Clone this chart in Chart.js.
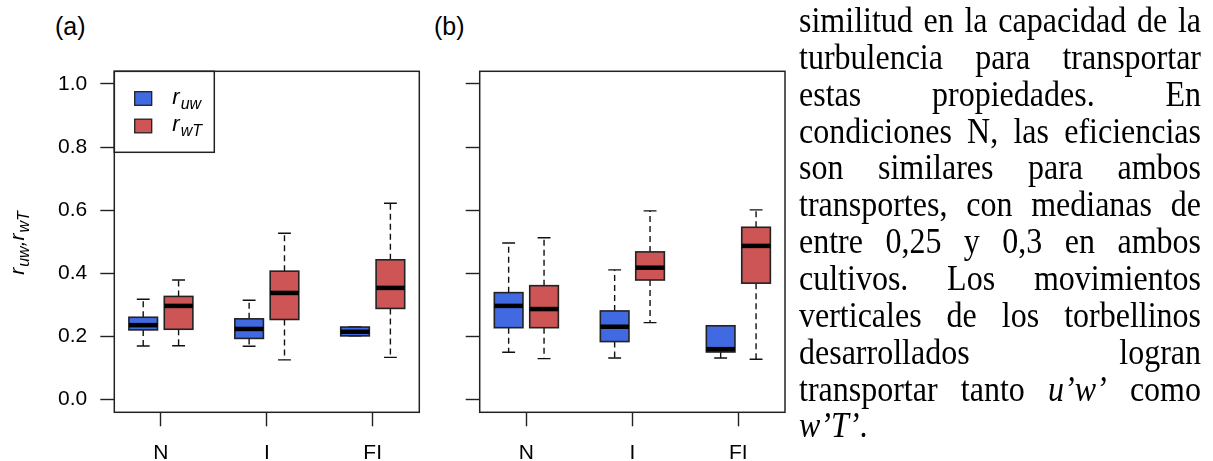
<!DOCTYPE html>
<html>
<head>
<meta charset="utf-8">
<script src="https://cdn.jsdelivr.net/npm/chart.js@4/dist/chart.umd.min.js"></script>
<style>
body { margin: 0; background: #fff; width: 1213px; height: 461px; overflow: hidden; position: relative; }
canvas { position: absolute; top: 0; }
#ca { left: 0; }
#cb { left: 420px; }
.panel { position: absolute; top: 12px; font: 25px "Liberation Sans", Arial, sans-serif; color: #000; }
#texto { position: absolute; left: 799px; top: 1.5px; width: 402px; font-family: "Liberation Serif", "Times New Roman", serif; font-size: 32px; line-height: 32.86px; color: #000; transform: scaleY(1.12); transform-origin: 0 0; }
#texto div { text-align: justify; text-align-last: justify; }
#texto div.ultima { text-align-last: left; }
</style>
</head>
<body>
<div class="panel" style="left:55px">(a)</div>
<div class="panel" style="left:434px">(b)</div>
<canvas id="ca" width="430" height="461"></canvas>
<canvas id="cb" width="375" height="461"></canvas>
<div id="texto">
  <div>similitud en la capacidad de la</div>
  <div>turbulencia para transportar</div>
  <div>estas propiedades. En</div>
  <div>condiciones N, las eficiencias</div>
  <div>son similares para ambos</div>
  <div>transportes, con medianas de</div>
  <div>entre 0,25 y 0,3 en ambos</div>
  <div>cultivos. Los movimientos</div>
  <div>verticales de los torbellinos</div>
  <div>desarrollados logran</div>
  <div>transportar tanto <i>u’w’</i> como</div>
  <div class="ultima"><i>w’T’</i>.</div>
</div>
<script>
// categorias y posiciones
const grupos = ['N', 'I', 'FI'];
const posGrupo = [1, 2, 3];
const yTicks = [0, 0.2, 0.4, 0.6, 0.8, 1.0];

// resumen de cada caja: [bigote inf, Q1, mediana, Q3, bigote sup]
const aUw = [[0.170, 0.221, 0.236, 0.261, 0.318], [0.169, 0.194, 0.224, 0.256, 0.315], [0.202, 0.202, 0.215, 0.230, 0.230]];
const aWT = [[0.171, 0.223, 0.297, 0.327, 0.379], [0.126, 0.254, 0.338, 0.407, 0.527], [0.134, 0.289, 0.354, 0.443, 0.622]];
const bUw = [[0.150, 0.228, 0.297, 0.339, 0.496], [0.132, 0.184, 0.231, 0.281, 0.411], [0.132, 0.151, 0.160, 0.234, 0.234]];
const bWT = [[0.130, 0.228, 0.287, 0.361, 0.513], [0.244, 0.379, 0.418, 0.468, 0.598], [0.128, 0.369, 0.487, 0.546, 0.601]];

const nombres = ['uw', 'wT'];
const colores = ['#4169e1', '#cd5555'];

const fuente = '"Liberation Sans", Arial, sans-serif';

// escribe r con subindice
function rSub(ctx, x, y, sub, tam, tamSub) {
    ctx.font = 'italic ' + tam + 'px ' + fuente;
    ctx.fillText('r', x, y);
    x += ctx.measureText('r').width + 1;
    ctx.font = 'italic ' + tamSub + 'px ' + fuente;
    ctx.fillText(sub, x, y + tamSub * 0.3);
    return x + ctx.measureText(sub).width;
}

// cajas y bigotes
const cajas = {
    id: 'cajas',
    afterDatasetsDraw(chart) {
        const ctx = chart.ctx, sx = chart.scales.x, sy = chart.scales.y;
        chart.data.datasets.forEach(ds => {
            ds.stats.forEach((s, i) => {
                const xv = ds.data[i].x;
                const cx = sx.getPixelForValue(xv);
                const half = sx.getPixelForValue(xv + 0.135) - cx;
                const cap = half * 0.45;
                const [lo, q1, med, q3, hi] = s.map(v => sy.getPixelForValue(v));
                ctx.save();
                ctx.strokeStyle = '#111';
                ctx.lineWidth = 1.4;
                ctx.setLineDash([6, 4]);
                ctx.beginPath();
                ctx.moveTo(cx, q3); ctx.lineTo(cx, hi);
                ctx.moveTo(cx, q1); ctx.lineTo(cx, lo);
                ctx.stroke();
                ctx.setLineDash([]);
                ctx.beginPath();
                ctx.moveTo(cx - cap, hi); ctx.lineTo(cx + cap, hi);
                ctx.moveTo(cx - cap, lo); ctx.lineTo(cx + cap, lo);
                ctx.stroke();
                ctx.fillStyle = ds.backgroundColor;
                ctx.fillRect(cx - half, q3, 2 * half, q1 - q3);
                ctx.lineWidth = 1.6;
                ctx.strokeStyle = '#222';
                ctx.strokeRect(cx - half, q3, 2 * half, q1 - q3);
                ctx.lineWidth = 4.5;
                ctx.strokeStyle = '#000';
                ctx.beginPath();
                ctx.moveTo(cx - half, med); ctx.lineTo(cx + half, med);
                ctx.stroke();
                ctx.restore();
            });
        });
    }
};

// marco, leyenda y titulo del eje y
const marco = {
    id: 'marco',
    afterDraw(chart, args, opts) {
        const ctx = chart.ctx, a = chart.chartArea;
        ctx.save();
        ctx.strokeStyle = '#222';
        ctx.lineWidth = 1.5;
        ctx.strokeRect(a.left, a.top, a.right - a.left, a.bottom - a.top);
        ctx.fillStyle = '#000';
        ctx.textBaseline = 'alphabetic';
        if (opts.leyenda) {
            ctx.strokeRect(a.left, a.top, 100, 81);
            chart.data.datasets.forEach((ds, k) => {
                const y0 = a.top + 20.4 + k * 27.5;
                ctx.fillStyle = ds.backgroundColor;
                ctx.fillRect(a.left + 20.4, y0, 17, 13.6);
                ctx.lineWidth = 1.3;
                ctx.strokeRect(a.left + 20.4, y0, 17, 13.6);
                ctx.fillStyle = '#000';
                rSub(ctx, a.left + 58, y0 + 12, nombres[k], 22, 16);
            });
        }
        if (opts.tituloY) {
            ctx.translate(24, (a.top + a.bottom) / 2);
            ctx.rotate(-Math.PI / 2);
            let x = -33;
            x = rSub(ctx, x, 0, nombres[0], 21, 16);
            ctx.font = 'italic 21px ' + fuente;
            ctx.fillText(',', x, 0);
            x += ctx.measureText(',').width;
            rSub(ctx, x, 0, nombres[1], 21, 16);
        }
        ctx.restore();
    }
};

function crearPanel(id, uw, wT, anchoEje, derecha, etiquetas) {
    const series = [uw, wT];
    return new Chart(document.getElementById(id), {
        type: 'scatter',
        data: {
            datasets: series.map((st, k) => ({
                label: 'r_' + nombres[k],
                data: posGrupo.map((p, i) => ({ x: p + (k === 0 ? -0.167 : 0.167), y: st[i][2] })),
                stats: st,
                backgroundColor: colores[k],
                pointRadius: 0
            }))
        },
        options: {
            responsive: false,
            animation: false,
            events: [],
            layout: { padding: { left: 0, top: 71.3, right: derecha, bottom: 0 } },
            plugins: {
                legend: { display: false },
                tooltip: { enabled: false },
                marco: { leyenda: etiquetas, tituloY: etiquetas }
            },
            scales: {
                x: {
                    type: 'linear',
                    min: 0.56,
                    max: 3.44,
                    afterBuildTicks: s => { s.ticks = posGrupo.map(v => ({ value: v })); },
                    afterFit: s => { s.height = 48.7; },
                    ticks: {
                        callback: v => grupos[posGrupo.indexOf(v)],
                        font: { family: fuente, size: 21 },
                        color: '#000',
                        padding: 14,
                        maxRotation: 0,
                        autoSkip: false
                    },
                    grid: { drawOnChartArea: false, tickLength: 14, tickColor: '#222', tickWidth: 1.4 },
                    border: { display: false }
                },
                y: {
                    min: -0.04,
                    max: 1.04,
                    afterBuildTicks: s => { s.ticks = yTicks.map(v => ({ value: v })); },
                    afterFit: s => { s.width = anchoEje; },
                    ticks: {
                        display: etiquetas,
                        callback: v => v.toFixed(1),
                        font: { family: fuente, size: 21 },
                        color: '#000',
                        padding: 13
                    },
                    grid: { drawOnChartArea: false, tickLength: 14, tickColor: '#222', tickWidth: 1.4 },
                    border: { display: false }
                }
            }
        },
        plugins: [cajas, marco]
    });
}

crearPanel('ca', aUw, aWT, 114.3, 10.7, true);
crearPanel('cb', bUw, bWT, 59.7, 10, false);
</script>
</body>
</html>
